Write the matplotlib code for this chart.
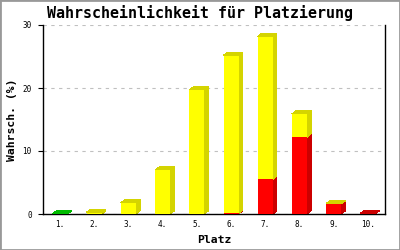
import numpy as np
import matplotlib
matplotlib.use('Agg')
import matplotlib.pyplot as plt
from matplotlib.patches import Polygon, Rectangle

plaetze = ['1.', '2.', '3.', '4.', '5.', '6.', '7.', '8.', '9.', '10.']
gruen = [0.05, 0, 0, 0, 0, 0, 0, 0, 0, 0]
rot = [0, 0, 0, 0, 0, 0.1, 5.5, 12.2, 1.6, 0.1]
gelb = [0, 0.3, 1.8, 7.0, 19.7, 25.1, 22.7, 3.7, 0.05, 0]

# (werte, vorne, seite/oben)
serien = [(gruen, '#00DD00', '#00BB00'),
          (rot, '#FF0000', '#CC0000'),
          (gelb, '#FFFF00', '#D4D400')]

mono = 'DejaVu Sans Mono'

fig = plt.figure(figsize=(4, 2.5), dpi=100)
ax = fig.add_axes([43/400, 36/250, 342/400, 189/250])
ax.set_xlim(0.5, 10.5)
ax.set_ylim(0, 30)

# 3D-Versatz in Datenkoordinaten (4px rechts, 3px hoch)
dx = 4 * 10 / 342
dy = 3 * 30 / 189
w = 0.44

x = np.arange(1, len(plaetze) + 1)
unten = np.zeros(len(plaetze))
oben_farbe = [None] * len(plaetze)
for werte, vorne, dunkel in serien:
    werte = np.array(werte, dtype=float)
    for i in range(len(x)):
        if werte[i] <= 0:
            continue
        b = unten[i]
        t = b + werte[i]
        r = x[i] + w / 2
        ax.add_patch(Polygon([(r, b), (r + dx, b + dy), (r + dx, t + dy), (r, t)],
                             closed=True, facecolor=dunkel, edgecolor='none',
                             antialiased=False, zorder=2))
        oben_farbe[i] = dunkel
    ax.bar(x, werte, w, bottom=unten, color=vorne, antialiased=False, zorder=3)
    unten = unten + werte

for i in range(len(x)):
    if oben_farbe[i] is None:
        continue
    l = x[i] - w / 2
    r = x[i] + w / 2
    t = unten[i]
    ax.add_patch(Polygon([(l, t), (l + dx, t + dy), (r + dx, t + dy), (r, t)],
                         closed=True, facecolor=oben_farbe[i], edgecolor='none',
                         antialiased=False, zorder=3))

ax.set_axisbelow(True)
ax.yaxis.grid(True, color='#C0C0C0', linestyle=(0, (3, 4)), linewidth=0.8)
ax.set_yticks([0, 10, 20, 30])
ax.set_xticks(x)
ax.set_xticklabels(plaetze)
ax.tick_params(axis='x', length=0, pad=4, labelsize=5.5)
ax.tick_params(axis='y', length=3.6, width=0.8, pad=4.5, labelsize=5.5, direction='out')
for lab in ax.get_xticklabels() + ax.get_yticklabels():
    lab.set_family(mono)
ax.spines['top'].set_visible(False)
for s in ['left', 'right', 'bottom']:
    ax.spines[s].set_linewidth(1.0)

ax.set_xlabel('Platz', family=mono, fontweight='bold', fontsize=8.2, labelpad=4.5)
ax.set_ylabel('Wahrsch. (%)', family=mono, fontweight='bold', fontsize=8.2, labelpad=4)
fig.text(0.5, 1 - 13/250, 'Wahrscheinlichkeit für Platzierung', family=mono,
         fontweight='bold', fontsize=10.8, ha='center', va='center')

fig.patches.append(Rectangle((0, 0), 1, 1, transform=fig.transFigure, fill=False,
                             edgecolor='#999999', linewidth=2))

fig.savefig('out.png', dpi=100)
